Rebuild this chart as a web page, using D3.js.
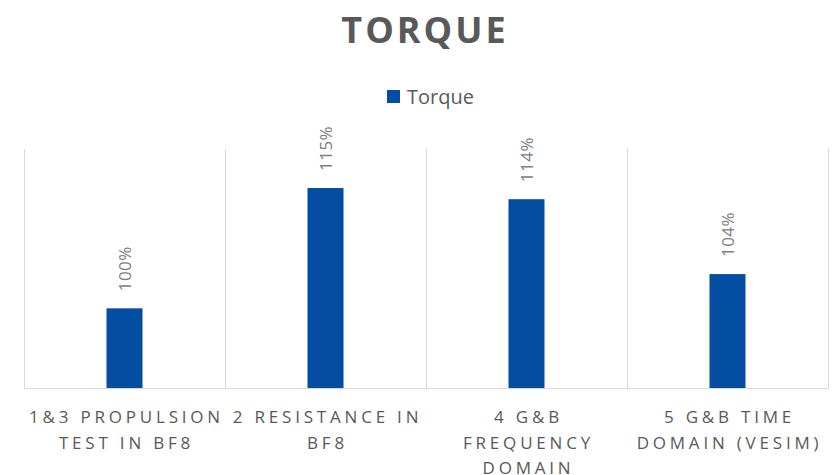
<!DOCTYPE html>
<html>
<head>
<meta charset="utf-8">
<script src="https://cdn.jsdelivr.net/npm/d3@7"></script>
<style>
  body { margin: 0; background: #fff; }
  svg { display: block; font-family: "Open Sans", sans-serif; }
</style>
</head>
<body>
<div id="chart"></div>
<script>
// chart data
const categories = ["1&3 PROPULSION TEST IN BF8", "2 RESISTANCE IN BF8", "4 G&B FREQUENCY DOMAIN", "5 G&B TIME DOMAIN (VESIM)"];
const tickLines = [
  ["1&3 PROPULSION", "TEST IN BF8"],
  ["2 RESISTANCE IN", "BF8"],
  ["4 G&B", "FREQUENCY", "DOMAIN"],
  ["5 G&B TIME", "DOMAIN (VESIM)"]
];
const torque = [1.0, 1.151, 1.137, 1.043];
const seriesName = "Torque";
const yDomain = [0.9, 1.2];

const width = 832, height = 475;
const margin = {top: 149, right: 4, bottom: 87, left: 24};
const barColor = "#034ea2";
const gridColor = "#d9d9d9";

let svg = d3.select("#chart")
  .append("svg")
  .attr("width", width)
  .attr("height", height);

// title
svg.append("text")
  .attr("x", 425)
  .attr("y", 43)
  .attr("text-anchor", "middle")
  .style("font-size", "36px")
  .style("font-weight", "bold")
  .style("letter-spacing", "3px")
  .style("fill", "#595959")
  .text("TORQUE");

// legend
let legend = svg.append("g").attr("transform", "translate(387,90)");
legend.append("rect")
  .attr("width", 13)
  .attr("height", 13)
  .attr("fill", barColor);
legend.append("text")
  .attr("x", 20)
  .attr("y", 14)
  .style("font-size", "20px")
  .style("fill", "#595959")
  .text(seriesName);

let x = d3.scaleBand()
  .domain(categories)
  .range([margin.left, width - margin.right])
  .paddingInner(0)
  .paddingOuter(0);

let y = d3.scaleLinear()
  .domain(yDomain)
  .range([height - margin.bottom, margin.top]);

// category separators
let bounds = categories.map(c => x(c)).concat([x.range()[1]]);
svg.append("g")
  .selectAll("line")
  .data(bounds)
  .join("line")
  .attr("x1", d => Math.round(d) + 0.5)
  .attr("x2", d => Math.round(d) + 0.5)
  .attr("y1", y.range()[1])
  .attr("y2", y.range()[0])
  .attr("stroke", gridColor)
  .attr("stroke-width", 1);

// bars
let barW = 36;
svg.append("g")
  .selectAll("rect")
  .data(torque)
  .join("rect")
  .attr("x", (d, i) => x(categories[i]) + x.bandwidth() / 2 - barW / 2)
  .attr("y", d => y(d))
  .attr("width", barW)
  .attr("height", d => y(yDomain[0]) - y(d))
  .attr("fill", barColor);

// baseline
svg.append("line")
  .attr("x1", x.range()[0])
  .attr("x2", x.range()[1] + 1)
  .attr("y1", y(yDomain[0]) + 0.5)
  .attr("y2", y(yDomain[0]) + 0.5)
  .attr("stroke", gridColor)
  .attr("stroke-width", 1);

// value labels (rotated)
let fmt = d3.format(".0%");
svg.append("g")
  .selectAll("text")
  .data(torque)
  .join("text")
  .attr("transform", (d, i) => "translate(" + (x(categories[i]) + x.bandwidth() / 2 + 6) + "," + (y(d) - 17) + ") rotate(-90)")
  .style("font-size", "17px")
  .style("letter-spacing", "0.5px")
  .style("fill", "#808080")
  .text(d => fmt(d));

// category labels
let xAxis = svg.append("g")
  .attr("class", "axis")
  .attr("transform", "translate(0," + y(yDomain[0]) + ")");

categories.forEach((c, i) => {
  let t = xAxis.append("text")
    .attr("text-anchor", "middle")
    .style("font-size", "17px")
    .style("letter-spacing", "3.8px")
    .style("fill", "#595959");
  tickLines[i].forEach((line, j) => {
    t.append("tspan")
      .attr("x", x(c) + x.bandwidth() / 2 + 2)
      .attr("y", 35 + j * 25.5)
      .text(line);
  });
});
</script>
</body>
</html>
